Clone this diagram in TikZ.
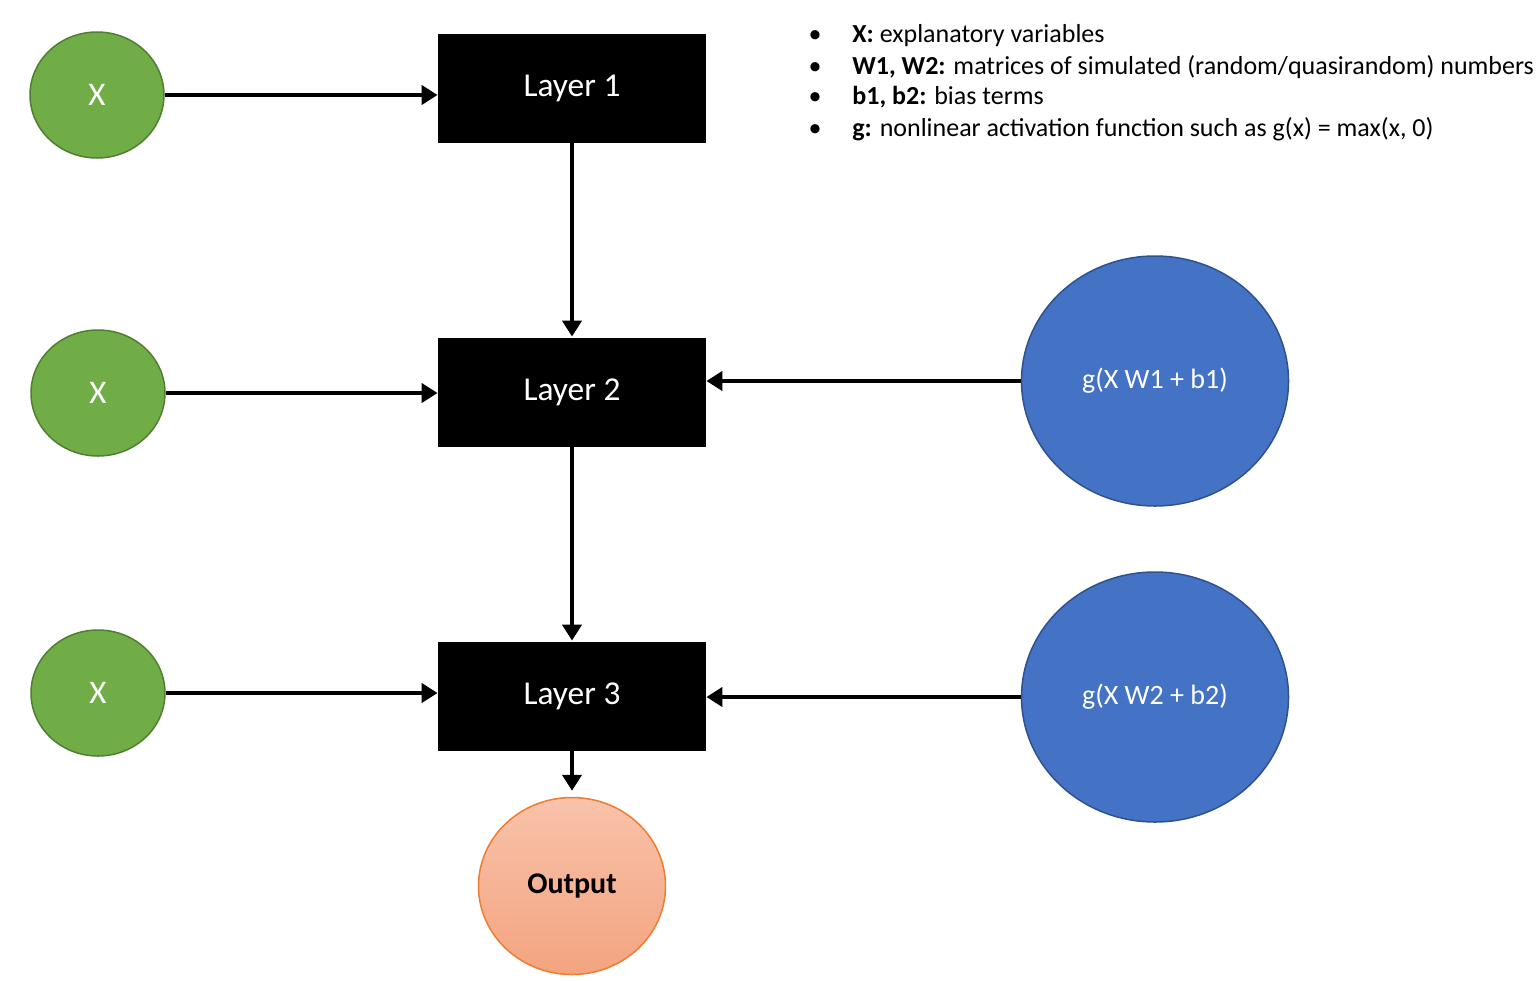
\documentclass[tikz,border=0pt]{standalone}
\usepackage{fontspec}
\setmainfont{Carlito}
\usetikzlibrary{shapes.geometric,arrows.meta}
\definecolor{xgreen}{HTML}{70AD47}
\definecolor{xgreenb}{HTML}{507E32}
\definecolor{gblue}{HTML}{4472C4}
\definecolor{gblueb}{HTML}{2F528F}
\definecolor{outtop}{HTML}{F8C2AB}
\definecolor{outbot}{HTML}{F4A47F}
\definecolor{outb}{HTML}{ED7D31}
\tikzset{
  xnode/.style={ellipse, draw=xgreenb, fill=xgreen, line width=0.75pt, minimum width=67pt, minimum height=63pt, inner sep=0pt, text=white, font=\fontsize{16.5}{18}\selectfont},
  layer/.style={rectangle, fill=black, minimum width=134pt, minimum height=54.5pt, inner sep=0pt, text=white, font=\fontsize{16.7}{18}\selectfont},
  gnode/.style={ellipse, draw=gblueb, fill=gblue, line width=0.75pt, minimum width=133.5pt, minimum height=125pt, inner sep=0pt, text=white, font=\fontsize{14}{16}\selectfont},
  outnode/.style={ellipse, draw=outb, top color=outtop, bottom color=outbot, line width=0.75pt, minimum width=93.5pt, minimum height=88.5pt, inner sep=0pt, font=\fontsize{15}{17}\selectfont\bfseries},
  arr/.style={line width=2.25pt, -{Triangle[length=8pt,width=9.5pt]}},
  legend/.style={anchor=base west, inner sep=0pt, font=\fontsize{13}{15}\selectfont},
  bullet/.style={anchor=base, inner sep=0pt, font=\fontsize{13}{15}\selectfont}
}
\begin{document}
\begin{tikzpicture}[x=0.5pt,y=-0.5pt]
\useasboundingbox (0,0) rectangle (1540,980);
% nodes
\node[xnode] (x1) at (97,95) {X};
\node[xnode] (x2) at (98,393) {X};
\node[xnode] (x3) at (98,693) {X};
\node[layer] (l1) at (572,88.5) {Layer 1};
\node[layer] (l2) at (572,392.5) {Layer 2};
\node[layer] (l3) at (572,696.5) {Layer 3};
\node[gnode] (g1) at (1155,381) {g(X W1 + b1)};
\node[gnode] (g2) at (1155,697) {g(X W2 + b2)};
\node[outnode] (out) at (572,886) {Output};
% connectors
\draw[arr] (x1.east) -- (x1.east -| l1.west);
\draw[arr] (x2.east) -- (x2.east -| l2.west);
\draw[arr] (x3.east) -- (x3.east -| l3.west);
\draw[arr, shorten >=0.5pt] (l1.south) -- (l2.north);
\draw[arr, shorten >=0.5pt] (l2.south) -- (l3.north);
\draw[arr] (g1.west) -- (g1.west -| l2.east);
\draw[arr] (g2.west) -- (g2.west -| l3.east);
\draw[arr, shorten >=3pt] (l3.south) -- (out.north);
% legend
\node[bullet] (b1) at (815,42) {•};
\node[legend] (t1) at (852,42) {\textbf{X:} explanatory variables};
\node[bullet] (b2) at (815,74) {•};
\node[legend] (t2) at (852,74) {\textbf{W1, W2:} matrices of simulated (random/quasirandom) numbers};
\node[bullet] (b3) at (815,104) {•};
\node[legend] (t3) at (852,104) {\textbf{b1, b2:} bias terms};
\node[bullet] (b4) at (815,136) {•};
\node[legend] (t4) at (852,136) {\textbf{g:} nonlinear activation function such as g(x) = max(x, 0)};
\end{tikzpicture}
\end{document}
